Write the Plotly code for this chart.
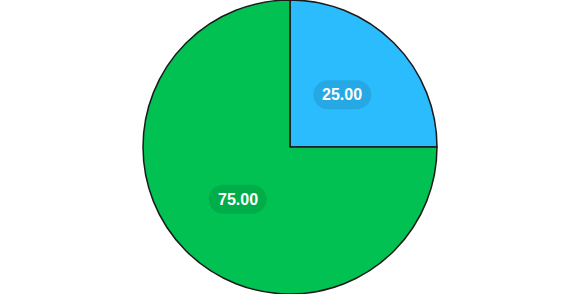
import math
import plotly.graph_objects as go

labels = ["A", "B"]
values = [25.00, 75.00]
colors = ["#2ABCFD", "#00C152"]

W, H = 580, 294
cx, cy, R = W / 2, H / 2, H / 2 - 0.5

fig = go.Figure(go.Pie(
    labels=labels, values=values, sort=False, direction="clockwise", rotation=0,
    marker=dict(colors=colors, line=dict(color="#1b1b1b", width=1.5)),
    textinfo="none", hoverinfo="label+value", showlegend=False,
    domain=dict(x=[0, 1], y=[0, 1]),
))

total = sum(values)
shapes, annotations = [], []
acc = 0.0
bw, bh = 58, 29
rr = bh / 2
for v in values:
    mid = (acc + v / 2) / total * 2 * math.pi
    acc += v
    rl = 0.505 * R
    px = cx + rl * math.sin(mid)
    py = cy - rl * math.cos(mid)
    def P(x, y):
        return f"{x / W:.5f},{1 - y / H:.5f}"
    x0, x1 = px - bw / 2, px + bw / 2
    y0, y1 = py - bh / 2, py + bh / 2
    path = (f"M {P(x0 + rr, y0)} L {P(x1 - rr, y0)} "
            f"C {P(x1 - rr + rr * 0.55, y0)} {P(x1, py - rr * 0.55)} {P(x1, py)} "
            f"C {P(x1, py + rr * 0.55)} {P(x1 - rr + rr * 0.55, y1)} {P(x1 - rr, y1)} "
            f"L {P(x0 + rr, y1)} "
            f"C {P(x0 + rr - rr * 0.55, y1)} {P(x0, py + rr * 0.55)} {P(x0, py)} "
            f"C {P(x0, py - rr * 0.55)} {P(x0 + rr - rr * 0.55, y0)} {P(x0 + rr, y0)} Z")
    shapes.append(dict(type="path", xref="paper", yref="paper", path=path,
                       fillcolor="rgba(0,0,0,0.1)", line=dict(width=0), layer="above"))
    annotations.append(dict(x=px / W, y=1 - py / H, xref="paper", yref="paper",
                            text=f"<b>{v:.2f}</b>", showarrow=False,
                            font=dict(family="Liberation Sans, Arial", size=16, color="white"),
                            xanchor="center", yanchor="middle"))

fig.update_layout(width=W, height=H, margin=dict(l=0, r=0, t=0, b=0),
                  paper_bgcolor="white", plot_bgcolor="white",
                  shapes=shapes, annotations=annotations)
fig.write_html("out.html")
